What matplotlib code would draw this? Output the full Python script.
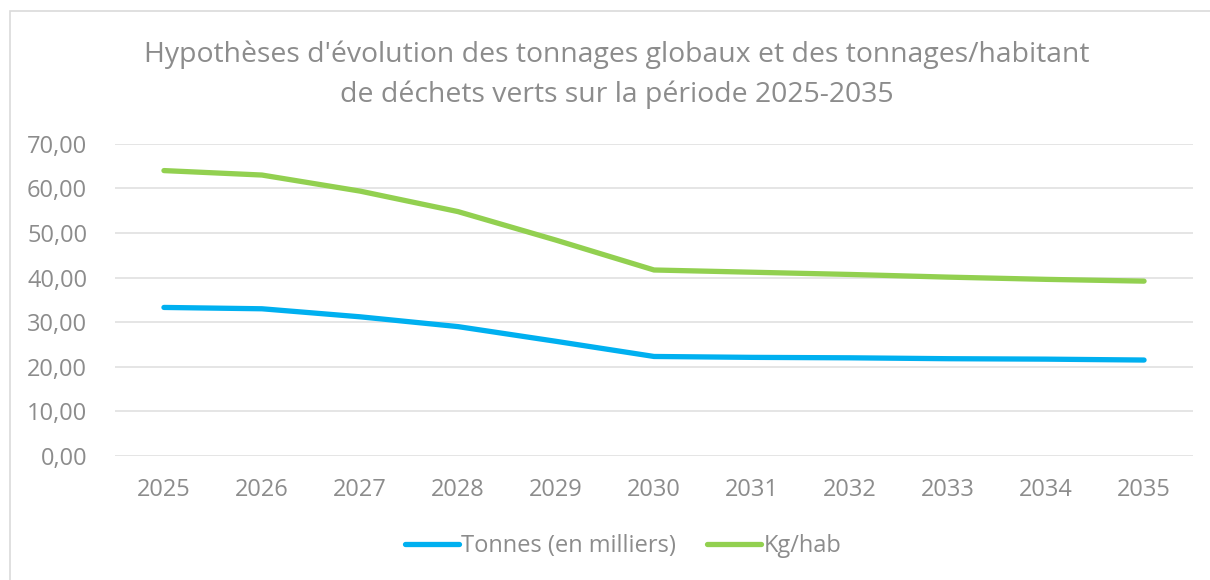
import matplotlib
matplotlib.use("Agg")
import matplotlib.pyplot as plt
from matplotlib.patches import Rectangle
from matplotlib.ticker import FuncFormatter

years = ['2025', '2026', '2027', '2028', '2029', '2030',
         '2031', '2032', '2033', '2034', '2035']
tonnes = [33.3, 33.0, 31.2, 29.0, 25.7, 22.3, 22.1, 22.0, 21.8, 21.7, 21.5]
kg_hab = [64.0, 63.0, 59.4, 54.8, 48.4, 41.7, 41.2, 40.7, 40.1, 39.6, 39.2]

title = ("Hypothèses d'évolution des tonnages globaux et des tonnages/habitant\n"
         "de déchets verts sur la période 2025-2035")

txt_col = '#8c8c8c'
grid_col = '#e3e3e3'

plt.rcParams['font.family'] = ['Open Sans', 'DejaVu Sans']

fig = plt.figure(figsize=(12.1, 5.8), dpi=100)
ax = fig.add_axes([0.095, 0.214, 0.891, 0.538])

# chart frame
fig.patches.append(Rectangle((10/1210, -0.05), 1.2, 1 - 11/580 + 0.05,
                             transform=fig.transFigure, fill=False,
                             edgecolor='#dadada', linewidth=1.2))

x = range(len(years))
ax.plot(x, tonnes, color='#00B0F0', lw=3.8, solid_capstyle='round',
        solid_joinstyle='round', label='Tonnes (en milliers)')
ax.plot(x, kg_hab, color='#92D050', lw=3.8, solid_capstyle='round',
        solid_joinstyle='round', label='Kg/hab')

ax.set_xlim(-0.5, len(years) - 0.5)
ax.set_ylim(0, 70)
ax.set_yticks(range(0, 71, 10))
ax.yaxis.set_major_formatter(FuncFormatter(lambda v, p: f'{v:.2f}'.replace('.', ',')))
ax.set_xticks(list(x))
ax.set_xticklabels(years)
ax.grid(axis='y', color=grid_col, lw=1.3)
ax.set_axisbelow(True)
for s in ax.spines.values():
    s.set_visible(False)
ax.tick_params(length=0, colors=txt_col, labelsize=17)
ax.tick_params(axis='y', pad=20)
ax.tick_params(axis='x', pad=16)

fig.text(0.5095, 0.871, title, ha='center', va='center', fontsize=20.4,
         color=txt_col, linespacing=1.5)

leg = fig.legend(loc='center', bbox_to_anchor=(0.515, 0.058), ncol=2,
                 frameon=False, fontsize=17, handlelength=2.3,
                 handletextpad=0.1, columnspacing=1.3)
for t in leg.get_texts():
    t.set_color(txt_col)

fig.savefig('out.png', dpi=100, facecolor='white')
